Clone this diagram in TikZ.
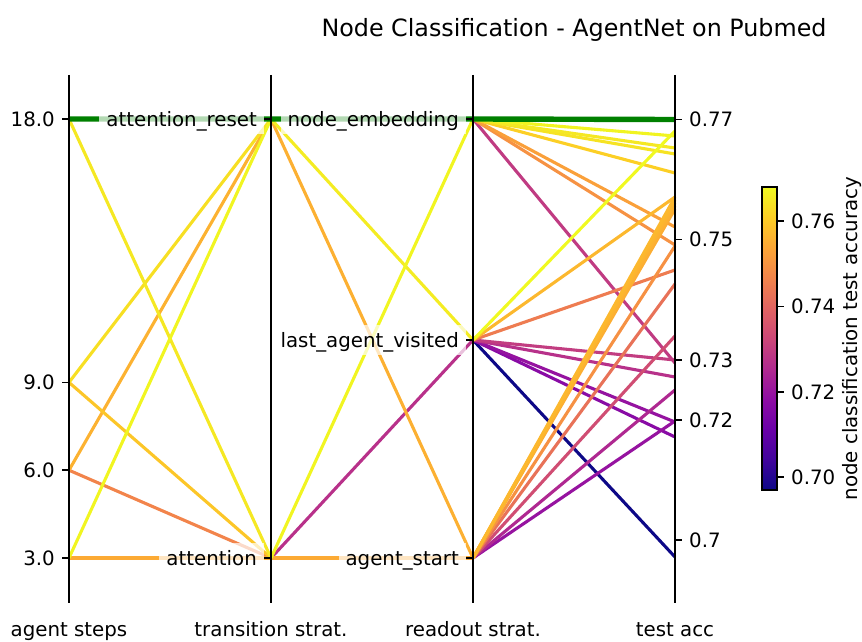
\documentclass[tikz,border=0pt]{standalone}
\usepackage{fontspec}
\setmainfont{DejaVu Sans}
\definecolor{p0}{RGB}{13,8,135}
\definecolor{p1}{RGB}{65,4,157}
\definecolor{p2}{RGB}{106,0,168}
\definecolor{p3}{RGB}{143,13,164}
\definecolor{p4}{RGB}{177,42,144}
\definecolor{p5}{RGB}{204,71,120}
\definecolor{p6}{RGB}{225,100,98}
\definecolor{p7}{RGB}{242,132,75}
\definecolor{p8}{RGB}{252,166,54}
\definecolor{p9}{RGB}{252,206,37}
\definecolor{p10}{RGB}{240,249,33}
\definecolor{mplgreen}{RGB}{0,128,0}
\pgfdeclareverticalshading{plasmabar}{100bp}{color(0bp)=(p0); color(25bp)=(p0); color(30bp)=(p1); color(35bp)=(p2); color(40bp)=(p3); color(45bp)=(p4); color(50bp)=(p5); color(55bp)=(p6); color(60bp)=(p7); color(65bp)=(p8); color(70bp)=(p9); color(75bp)=(p10); color(100bp)=(p10)}
\newcommand\tickfont{\fontsize{19.8pt}{23pt}\selectfont}
\newcommand\titlefont{\fontsize{23.8pt}{28pt}\selectfont}
\newcommand\seg[3]{\draw[pline,draw={#1}] (#2) -- (#3);}
\begin{document}
\begin{tikzpicture}[x=1pt,y=-1pt,
  pline/.style={line width=3.1pt},
  best/.style={line width=5.4pt, draw=mplgreen},
  axisline/.style={line width=1.5pt, draw=black},
  tickmark/.style={line width=1.5pt, draw=black},
  numlab/.style={font=\tickfont, inner sep=0pt, text height=14.45pt, text depth=0pt},
  catlab/.style={font=\tickfont, anchor=east, fill=white, fill opacity=0.7, text opacity=1, inner xsep=7pt, inner ysep=7.5pt, text height=14.45pt, text depth=0pt},
  axtitle/.style={font=\tickfont, anchor=base, inner sep=0pt}
]
\useasboundingbox (0,0) rectangle (862,642);
% axis points
\coordinate (s18) at (69,119);
\coordinate (s9) at (69,382.4);
\coordinate (s6) at (69,470.2);
\coordinate (s3) at (69,558);
\coordinate (tR) at (271,119);
\coordinate (tA) at (271,558);
\coordinate (rN) at (473,119);
\coordinate (rL) at (473,340);
\coordinate (rS) at (473,558);
\coordinate (a119) at (675,119.5);
\foreach \v in {131,136,148,154,173,197,200,203,206,209,227,245,246,270,284,336,360,363,377,390,421,422,437,557}
  \coordinate (a\v) at (675,\v);
% lines, ordered by accuracy
\seg{p0}{rL}{a557}
\seg{p3!84!p2}{rL}{a437}
\seg{p4!19!p3}{rL}{a422}
\seg{p4!22!p3}{rS}{a421}
\seg{p4!94!p3}{rS}{a390}
\seg{p5!25!p4}{tA}{rL}
\seg{p5!24!p4}{rL}{a377}
\seg{p5!57!p4}{rN}{a363}
\seg{p5!64!p4}{rL}{a360}
\seg{p6!21!p5}{rS}{a336}
\seg{p7!43!p6}{rS}{a284}
\seg{p7!76!p6}{rL}{a270}
\seg{p7}{s6}{tA}
\seg{p8!37!p7}{rS}{a246}
\seg{p8!40!p7}{rN}{a245}
\seg{p8!82!p7}{rN}{a227}
\seg{p9!10!p8}{s3}{tA}
\seg{p9!10!p8}{tA}{rS}
\seg{p9!18!p8}{rS}{a209}
\seg{p9!25!p8}{rS}{a206}
\seg{p9!25!p8}{tR}{rS}
\seg{p9!32!p8}{rS}{a203}
\seg{p9!30!p8}{s6}{tR}
\seg{p9!39!p8}{rS}{a200}
\seg{p9!46!p8}{rS}{a197}
\seg{p9!46!p8}{rL}{a197}
\seg{p9!80!p8}{s9}{tA}
\seg{p10!3!p9}{rN}{a173}
\seg{p10!40!p9}{s9}{tR}
\seg{p10!48!p9}{rN}{a154}
\seg{p10!60!p9}{s18}{tA}
\seg{p10!61!p9}{rN}{a148}
\seg{p10!70!p9}{tR}{rL}
\seg{p10!89!p9}{rN}{a136}
\seg{p10!90!p9}{s3}{tR}
\seg{p10!90!p9}{tA}{rN}
\seg{p10}{rL}{a131}
\draw[best] (s18) -- (tR) -- (rN) -- (a119);
% category labels with translucent boxes
\node[catlab] (lar) at (264,119) {attention\_reset};
\node[catlab] (lat) at (264,558) {attention};
\node[catlab] (lne) at (466,119) {node\_embedding};
\node[catlab] (lla) at (466,340) {last\_agent\_visited};
\node[catlab] (las) at (466,558) {agent\_start};
% axes
\foreach \x in {69,271,473,675} \draw[axisline] (\x,75) -- (\x,603);
% ticks
\foreach \y in {119,382.4,470.2,558} \draw[tickmark] (62,\y) -- (69,\y);
\foreach \y in {119,558} \draw[tickmark] (264,\y) -- (271,\y);
\foreach \y in {119,340,558} \draw[tickmark] (466,\y) -- (473,\y);
\foreach \y in {119.5,239.6,359.8,419.9,540} \draw[tickmark] (675,\y) -- (682,\y);
% numeric tick labels
\node[numlab,anchor=east] (n18) at (55,119) {18.0};
\node[numlab,anchor=east] (n9) at (55,382.4) {9.0};
\node[numlab,anchor=east] (n6) at (55,470.2) {6.0};
\node[numlab,anchor=east] (n3) at (55,558) {3.0};
\node[numlab,anchor=west] (v77) at (689,119.5) {0.77};
\node[numlab,anchor=west] (v75) at (689,239.6) {0.75};
\node[numlab,anchor=west] (v73) at (689,359.8) {0.73};
\node[numlab,anchor=west] (v72) at (689,419.9) {0.72};
\node[numlab,anchor=west] (v70) at (689,540) {0.7};
% axis titles
\node[axtitle] (t1) at (69,636) {agent steps};
\node[axtitle] (t2) at (271,636) {transition strat.};
\node[axtitle] (t3) at (473,636) {readout strat.};
\node[axtitle] (t4) at (675,636) {test acc};
% title
\node[font=\titlefont, anchor=base, inner sep=0pt] (title) at (574,37) {Node Classification - AgentNet on Pubmed};
% colorbar
\shade[shading=plasmabar] (762,187) rectangle (777,490);
\draw[line width=1.2pt] (762,187) rectangle (777,490);
\foreach \y/\l in {221.1/0.76,306.5/0.74,391.8/0.72,477.2/0.70} {
  \draw[tickmark] (777,\y) -- (784,\y);
  \node[numlab,anchor=west] at (791,\y) {\l};
}
\node[font=\tickfont, rotate=90, anchor=base, inner sep=0pt] (cbl) at (857,338.5) {node classification test accuracy};
\end{tikzpicture}
\end{document}
